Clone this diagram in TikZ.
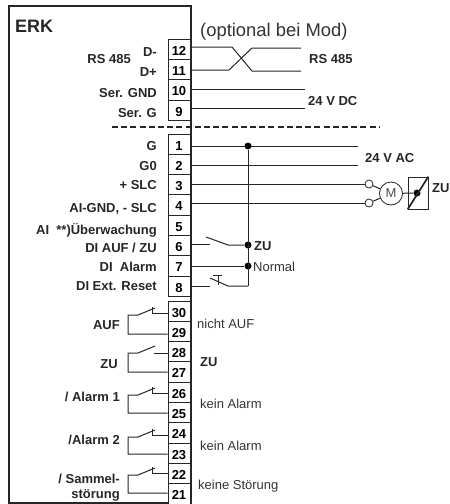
\documentclass[tikz,border=0pt]{standalone}
\usepackage{fontspec}
\setmainfont{Liberation Sans}
\begin{document}
\begin{tikzpicture}[x=1pt,y=-1pt]
	\tikzstyle{Terminal} = [rectangle, minimum width=22pt, minimum height=20.3pt, inner sep=0pt, draw=black!85, line width=1pt, fill=white, text height=11.5pt, text depth=0pt, font=\bfseries\fontsize{13}{13}\selectfont]
	\tikzstyle{Lbl} = [inner sep=0pt, yshift=-2.5pt, text=black!85, font=\bfseries\fontsize{13}{13}\selectfont]
	\tikzstyle{LblL} = [Lbl, anchor=mid east]
	\tikzstyle{LblR} = [Lbl, anchor=mid west]
	\tikzstyle{Plain} = [inner sep=0pt, yshift=-2.5pt, anchor=mid west, text=black!80, font=\fontsize{13}{13}\selectfont]
	\tikzstyle{wire} = [line width=1pt, black!85]
	\tikzstyle{Dot} = [circle, fill=black, inner sep=0pt, minimum size=7pt]
	\tikzstyle{Ring} = [circle, draw=black!85, fill=white, line width=0.8pt, inner sep=0pt, minimum size=8pt]

	\useasboundingbox (0,0) rectangle (450,504);
	\draw [line width=1.4pt, black!85] (9,503) -- (9,6) -- (191,6) -- (191,503) -- cycle;

	\foreach \num/\ypos in {12/50, 11/70, 10/90, 9/110.5, 1/145, 2/165, 3/185, 4/205, 5/225.5, 6/246, 7/266, 8/286.5, 30/312, 29/332, 28/352, 27/372, 26/392.5, 25/413, 24/433, 23/453.5, 22/474, 21/494}
		\node (t\num) [Terminal] at (179,\ypos) {\num};

	\node (erk) [Lbl, anchor=mid west, yshift=-1pt, font=\bfseries\fontsize{18}{18}\selectfont] at (15,26) {ERK};
	\node (opt) [Plain, yshift=-1pt, font=\fontsize{18.4}{19}\selectfont] at (200,30) {(optional bei Mod)};

	% links
	\node (lbus) [LblL] at (131,58) {RS 485};
	\node (l12) [LblL] at (157,51) {D-};
	\node (l11) [LblL] at (157,71) {D+};
	\node (l10) [LblL] at (157,92) {Ser. GND};
	\node (l9) [LblL] at (157,112) {Ser. G};
	\node (l1) [LblL] at (157,145) {G};
	\node (l2) [LblL] at (157,165) {G0};
	\node (l3) [LblL] at (157,184) {+ SLC};
	\node (l4) [LblL] at (157,207) {AI-GND, - SLC};
	\node (l5) [LblL] at (157,229) {AI\ \ **)Überwachung};
	\node (l6) [LblL] at (157,247) {DI AUF / ZU};
	\node (l7) [LblL] at (157,266) {DI\ \ Alarm};
	\node (l8) [LblL] at (157,285) {DI Ext. Reset};
	\node (lauf) [LblL] at (120,324) {AUF};
	\node (lzu) [LblL] at (118,363) {ZU};
	\node (lal1) [LblL] at (120,396) {/ Alarm 1};
	\node (lal2) [LblL] at (120,439) {/Alarm 2};
	\node (lsam) [LblL] at (120,478) {/ Sammel-};
	\node (lsto) [LblL] at (120,493) {störung};

	% rechts
	\node (rbus) [LblR] at (309,58) {RS 485};
	\node (rdc) [LblR] at (308,100) {24 V DC};
	\node (rac) [LblR] at (365,157) {24 V AC};
	\node (rmot) [LblR] at (432,187) {ZU};
	\node (rzu) [LblR] at (254,245) {ZU};
	\node (rnorm) [Plain] at (253,266) {Normal};
	\node (r30) [Plain] at (197,323) {nicht AUF};
	\node (r28) [LblR] at (200,361) {ZU};
	\node (r26) [Plain] at (200,403) {kein Alarm};
	\node (r24) [Plain] at (200,445) {kein Alarm};
	\node (r22) [Plain] at (198,484) {keine Störung};

	% Bus und Speisung
	\coordinate (e12) at (301,48);
	\coordinate (e11) at (301,71);
	\coordinate (e10) at (305,89);
	\coordinate (e9) at (305,108);
	\coordinate (e1) at (358,146);
	\coordinate (e2) at (358,165);
	\draw [wire] (191,47) -- (232,47) -- (252,71) -- (e11);
	\draw [wire] (191,70) -- (229,70) -- (252,48) -- (e12);
	\draw [wire] (191,89) -- (e10);
	\draw [wire] (191,108) -- (e9);
	\draw [line width=1.3pt, black!85, dash pattern=on 6pt off 3.2pt] (112,127) -- (380,127);
	\draw [wire] (191,146) -- (e1);
	\draw [wire] (191,165) -- (e2);

	% Stellantrieb
	\node (r3) [Ring] at (369,184) {};
	\node (r4) [Ring] at (369,203) {};
	\node (mot) [circle, draw=black!85, line width=0.8pt, minimum size=23pt, inner sep=0pt, font=\fontsize{13}{13}\selectfont, text=black!70] at (391,193.5) {M};
	\node (fb) [rectangle, draw=black!85, line width=0.8pt, minimum width=20pt, minimum height=32pt, inner sep=0pt] at (418,193) {};
	\node (fbdot) [Dot] at (417,193) {};
	\draw [wire] (191,184) -- (r3);
	\draw [wire] (191,203) -- (r4);
	\draw [wire] (r3) -- (mot);
	\draw [wire] (r4) -- (mot);
	\draw [wire] (mot) -- (fbdot);
	\draw [line width=1.7pt, black!85] (fb.south west) -- (fb.north east);

	% Kontakte an 6, 7, 8
	\node (d1) [Dot] at (248,146) {};
	\node (d6) [Dot] at (248,245) {};
	\node (d7) [Dot] at (248,266) {};
	\coordinate (c8) at (248,286);
	\draw [wire] (d1) -- (c8);
	\draw [wire] (191,244) -- (210,244);
	\draw [wire] (206,237) -- (228,245) -- (d6);
	\draw [wire] (191,266) -- (d7);
	\draw [wire] (191,286) -- (210,286);
	\draw [wire] (210,278) -- (228,286) -- (c8);
	\draw [wire] (213,275) -- (222,275);
	\draw [wire] (218,275) -- (218,285);

	% Relais
	\foreach \ta/\tb/\ya/\yb in {30/29/315/334, 26/25/395/413, 24/23/437/454, 22/21/475/493} {
		\draw [wire] (t\tb.west |- 0,\yb) -- (128,\yb) -- (128,\ya) -- (138,\ya) -- (155,\ya-7);
		\draw [wire] (152.5,\ya-8) -- (152.5,\ya-1.5) -- (t\ta.west |- 0,\ya-1.5);
	}
	\draw [wire] (t27.west |- 0,372) -- (128,372) -- (128,353) -- (138,353) -- (155,346);
	\draw [wire] (154,353) -- (t28.west |- 0,353);
\end{tikzpicture}
\end{document}
